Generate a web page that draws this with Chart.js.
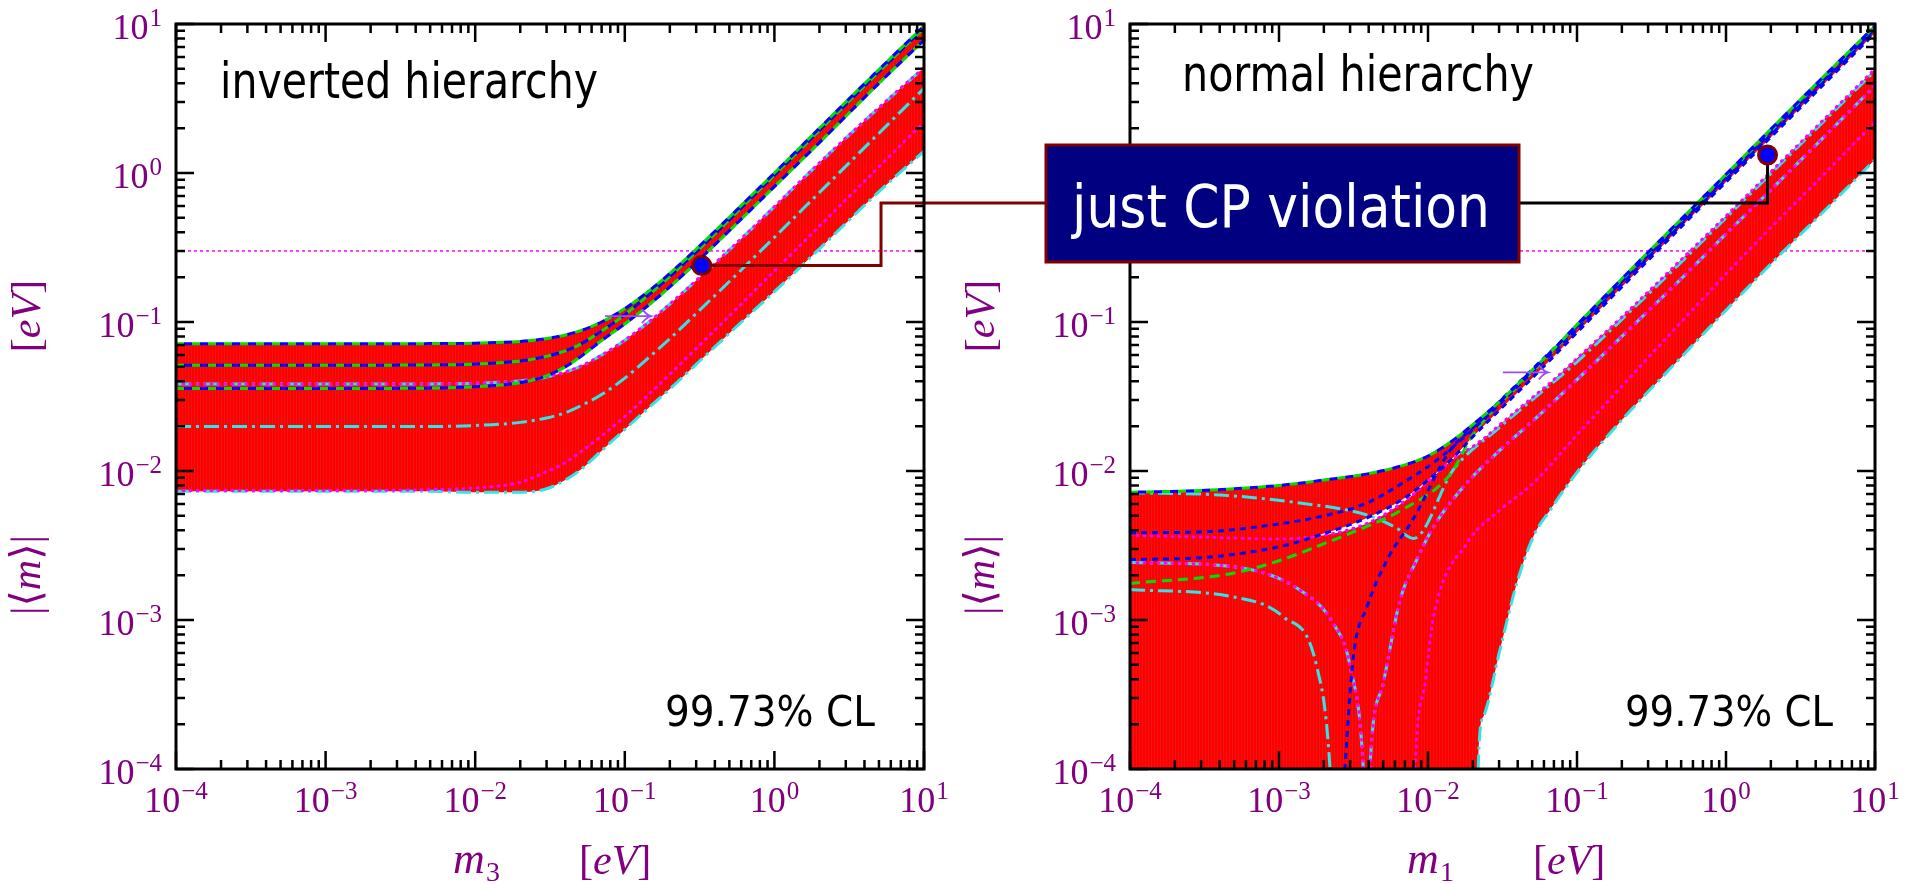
<!DOCTYPE html>
<html>
<head>
<meta charset="utf-8">
<title>Effective Majorana mass</title>
<script src="https://cdn.jsdelivr.net/npm/chart.js@4.4.1/dist/chart.umd.min.js"></script>
<style>
  html, body { margin: 0; padding: 0; background: #ffffff; }
  #wrap { position: relative; width: 1915px; height: 884px; overflow: hidden; }
  #wrap canvas { position: absolute; left: 0; top: 0; }
</style>
</head>
<body>
<div id="wrap">
  <canvas id="ihChart" width="1915" height="884"></canvas>
  <canvas id="nhChart" width="1915" height="884"></canvas>
</div>
<script>
// values, all in eV
var tickExp = [-4, -3, -2, -1, 0, 1];
var boundLine = [0.3];

// inverted hierarchy (x = m3)
var ihX      = [1e-4, 1e-3, 5e-3, 0.01, 0.02, 0.03, 0.04, 0.05, 0.07, 0.1, 0.15, 0.2, 0.3, 0.5, 0.7, 1, 2, 5, 10];
var ihTop    = [0.0714, 0.0714, 0.0716, 0.0721, 0.0741, 0.0775, 0.0818, 0.0872, 0.100, 0.123, 0.166, 0.212, 0.308, 0.505, 0.704, 1.0, 2.0, 4.95, 9.7];
var ihMid    = [0.0513, 0.0513, 0.0515, 0.0522, 0.0548, 0.0588, 0.064, 0.0705, 0.087, 0.112, 0.157, 0.202, 0.295, 0.485, 0.68, 0.965, 1.93, 4.78, 9.4];
var ihUpLow  = [0.0358, 0.0358, 0.0360, 0.0368, 0.0392, 0.0435, 0.050, 0.058, 0.075, 0.097, 0.134, 0.172, 0.25, 0.41, 0.57, 0.81, 1.6, 4.0, 7.8];
var ihLowTop = [0.0383, 0.0383, 0.0384, 0.0388, 0.0403, 0.0428, 0.0462, 0.0502, 0.060, 0.0755, 0.103, 0.132, 0.19, 0.305, 0.42, 0.595, 1.17, 2.75, 5.1];
var ihCentre = [0.0199, 0.0199, 0.0199, 0.0202, 0.0212, 0.0227, 0.0246, 0.0272, 0.0326, 0.042, 0.0597, 0.0773, 0.114, 0.187, 0.26, 0.37, 0.74, 1.85, 3.7];
var ihLowM   = [0.0074, 0.0074, 0.0075, 0.0077, 0.0084, 0.0099, 0.0114, 0.0133, 0.0172, 0.0232, 0.0338, 0.0446, 0.0664, 0.11, 0.154, 0.22, 0.44, 1.1, 2.2];
var ihBot    = [0.0073, 0.0073, 0.0073, 0.0072, 0.0072, 0.0076, 0.0087, 0.0101, 0.0137, 0.019, 0.0275, 0.0355, 0.052, 0.084, 0.115, 0.16, 0.31, 0.75, 1.4];
var ihDotX = [0.327], ihDotY = [0.239];

// normal hierarchy (x = m1)
var nhXU     = [1e-4, 3e-4, 1e-3, 2e-3, 4e-3, 7e-3, 0.01, 0.015, 0.02, 0.03, 0.05, 0.07, 0.1, 0.2, 0.5, 1, 2, 5, 10];
var nhTop    = [0.0072, 0.0074, 0.0080, 0.0087, 0.0096, 0.0110, 0.0126, 0.0163, 0.0205, 0.029, 0.0475, 0.066, 0.096, 0.195, 0.49, 0.98, 1.97, 4.9, 9.7];
var nhUpLow  = [0.00255, 0.00262, 0.0031, 0.0038, 0.0049, 0.0066, 0.0087, 0.0125, 0.017, 0.0255, 0.042, 0.059, 0.085, 0.172, 0.435, 0.87, 1.74, 4.35, 8.7];
var nhXL     = [1e-4, 3e-4, 1e-3, 2e-3, 4e-3, 7e-3, 0.01, 0.015, 0.0212, 0.0217, 0.0235, 0.0304, 0.0394, 0.0509, 0.066, 0.1, 0.2, 0.5, 1, 2, 5, 10];
var nhLowTop = [0.0037, 0.0036, 0.0035, 0.0037, 0.0045, 0.0063, 0.0085, 0.0122, 0.0152, 0.0155, 0.0164, 0.0205, 0.0255, 0.0315, 0.039, 0.057, 0.108, 0.262, 0.515, 1.02, 2.52, 5.0];
var nhBot    = [1e-6, 1e-6, 1e-6, 1e-6, 1e-6, 1e-6, 1e-6, 1e-6, 1e-6, 0.0001, 0.000224, 0.00063, 0.00176, 0.00363, 0.00547, 0.0098, 0.022, 0.058, 0.12, 0.245, 0.61, 1.23];
var nhB1X = [1e-4, 3e-4, 8.3e-4, 2e-3, 3.9e-3, 7e-3, 0.0108, 0.02, 0.05, 0.1, 0.2, 0.5, 1, 2, 5, 10];
var nhB1Y = [0.00385, 0.0039, 0.0043, 0.005, 0.0061, 0.0085, 0.0113, 0.019, 0.046, 0.09, 0.18, 0.45, 0.9, 1.8, 4.5, 9.0];
var nhB3X = [0.0026, 0.00277, 0.00316, 0.0039, 0.0055, 0.0079, 0.0141, 0.02, 0.05, 0.1, 0.3, 1, 3, 10];
var nhB3Y = [0.00003, 0.0001, 0.00057, 0.00123, 0.0027, 0.0047, 0.0138, 0.0195, 0.048, 0.094, 0.28, 0.93, 2.8, 9.3];
var nhG2X = [1e-4, 4.9e-4, 1e-3, 2.31e-3, 4e-3, 6.5e-3, 0.0141, 0.02, 0.05, 0.1, 0.3, 1, 3, 10];
var nhG2Y = [0.00176, 0.00206, 0.0025, 0.00344, 0.0043, 0.0054, 0.0095, 0.0175, 0.046, 0.093, 0.285, 0.95, 2.85, 9.5];
var nhC1X = [1e-4, 4e-4, 1.38e-3, 3.9e-3, 6e-3, 8e-3, 0.0148, 0.03, 0.05, 0.1, 0.2, 0.5, 1, 2, 5, 10];
var nhC1Y = [0.00715, 0.0069, 0.0061, 0.00507, 0.0042, 0.00353, 0.0102, 0.0195, 0.030, 0.054, 0.104, 0.252, 0.50, 0.99, 2.45, 4.85];
var nhC2X = [1e-4, 4.9e-4, 1.38e-3, 2.31e-3, 3.0e-3, 3.68e-3, 3.9e-3];
var nhC2Y = [0.00243, 0.00228, 0.00159, 0.00095, 0.00049, 0.0001, 0.00002];
var nhC3X = [1e-4, 4.9e-4, 1.07e-3, 1.79e-3, 2.2e-3, 2.35e-3];
var nhC3Y = [0.0016, 0.00143, 0.00105, 0.00049, 0.0001, 0.00002];
var nhR1X = [0.0039, 0.00407, 0.00501, 0.0065, 0.0084, 0.0109, 0.0182, 0.0304, 0.05, 0.1, 0.2, 0.5, 1, 2, 5, 10];
var nhR1Y = [0.00002, 0.0001, 0.000376, 0.00136, 0.00253, 0.00423, 0.0083, 0.0138, 0.0215, 0.041, 0.08, 0.195, 0.39, 0.77, 1.92, 3.85];
var nhR2X = [0.0079, 0.0082, 0.00955, 0.0109, 0.0182, 0.0304, 0.0509, 0.1, 0.2, 0.5, 1, 2, 5, 10];
var nhR2Y = [0.00002, 0.0001, 0.000376, 0.00105, 0.00327, 0.00547, 0.0083, 0.0175, 0.037, 0.1, 0.21, 0.43, 1.08, 2.2];
var nhDotX = [1.9], nhDotY = [1.32];

// annotation anchors (data units)
var ihArrow = {x0: 0.0738, x1: 0.1496, y: 0.1096};
var nhArrow = {x0: 0.0318, x1: 0.0638, y: 0.0459};
var ihElbowX = 5.16, connY = 0.63;
var BOX = {left: 1046, top: 145, right: 1519, bottom: 262};

// red hatching like the original vertical strokes
var pc = document.createElement('canvas');
pc.width = 3; pc.height = 1;
var pg = pc.getContext('2d');
pg.fillStyle = '#ff0000'; pg.fillRect(0, 0, 3, 1);
pg.fillStyle = '#f21212'; pg.fillRect(2, 0, 1, 1);
var RED = pg.createPattern(pc, 'repeat');

var sGreen = {c: '#00e000', w: 3, d: [10, 6]};
var sGreenA = {c: '#00e000', w: 3, d: [8, 8]};
var sBlueA = {c: '#0000ff', w: 3, d: [8, 8], o: 8};
var sBlue = {c: '#0000ff', w: 3, d: [6, 5]};
var sCyan = {c: '#2ee6e6', w: 3, d: [15, 5, 3, 5]};
var sMag = {c: '#ff00ff', w: 3, d: [1, 6], cap: 'round'};
var sNone = {c: 'rgba(0,0,0,0)', w: 1, d: []};

function pts(xs, ys) {
  return xs.map(function (x, i) { return {x: x, y: ys[i]}; });
}

function curve(xs, ys, st, order, fillTo) {
  var d = {
    data: pts(xs, ys),
    borderColor: st.c,
    borderWidth: st.w,
    borderDash: st.d,
    borderDashOffset: st.o || 0,
    borderCapStyle: st.cap || 'butt',
    pointRadius: 0,
    fill: false,
    order: order,
    clip: 0
  };
  if (fillTo !== undefined) {
    d.fill = fillTo;
    d.backgroundColor = RED;
  }
  return d;
}

function dot(xs, ys) {
  return {
    data: pts(xs, ys),
    isDot: true,
    showLine: false,
    pointRadius: 9,
    pointBackgroundColor: '#0000ff',
    pointBorderColor: '#800000',
    pointBorderWidth: 3,
    order: 0,
    clip: false
  };
}

function scaledText(ctx, str, x, y, size, width, color) {
  ctx.save();
  ctx.font = size + 'px "DejaVu Sans"';
  var w = ctx.measureText(str).width;
  ctx.translate(x, y);
  ctx.scale(width / w, 1);
  ctx.fillStyle = color;
  ctx.textAlign = 'left';
  ctx.textBaseline = 'alphabetic';
  ctx.fillText(str, 0, 0);
  ctx.restore();
}

function powLabel(ctx, e, x, y, align) {
  var ex = e < 0 ? '\u2212' + (-e) : String(e);
  ctx.font = '36px "Liberation Serif"';
  var wb = ctx.measureText('10').width;
  ctx.font = '25px "Liberation Serif"';
  var we = ctx.measureText(ex).width;
  var tot = wb + we + 1;
  var x0 = align === 'center' ? x - tot / 2 : x - tot;
  ctx.textAlign = 'left';
  ctx.font = '36px "Liberation Serif"';
  ctx.fillText('10', x0, y);
  ctx.font = '25px "Liberation Serif"';
  ctx.fillText(ex, x0 + wb + 1, y - 13);
}

// runs of [text, italic]
function runs(ctx, list, x, y, size) {
  var cx = x;
  list.forEach(function (r) {
    ctx.font = (r[1] ? 'italic ' : '') + size + 'px "Liberation Serif", "DejaVu Serif"';
    ctx.fillText(r[0], cx, y);
    cx += ctx.measureText(r[0]).width;
  });
  return cx;
}
function runsWidth(ctx, list, size) {
  var w = 0;
  list.forEach(function (r) {
    ctx.font = (r[1] ? 'italic ' : '') + size + 'px "Liberation Serif", "DejaVu Serif"';
    w += ctx.measureText(r[0]).width;
  });
  return w;
}

function makePlugin(cfg) {
  return {
    id: 'deco_' + cfg.name,
    beforeDraw: function (chart) {
      var ctx = chart.ctx, a = chart.chartArea;
      var py = chart.scales.y.getPixelForValue(boundLine[0]);
      ctx.save();
      ctx.strokeStyle = '#ff00ff';
      ctx.lineWidth = 1.5;
      ctx.setLineDash([3, 3]);
      ctx.beginPath();
      ctx.moveTo(a.left, py);
      ctx.lineTo(a.right, py);
      ctx.stroke();
      ctx.restore();
    },
    beforeDatasetDraw: function (chart, args) {
      var ds = chart.data.datasets[args.index];
      if (!ds.isDot) return;
      var ctx = chart.ctx, xs = chart.scales.x, ys = chart.scales.y;
      var p = args.meta.data[0];
      var cy = ys.getPixelForValue(connY);
      ctx.save();
      ctx.lineWidth = 3;
      ctx.strokeStyle = cfg.connColor;
      ctx.beginPath();
      ctx.moveTo(p.x, p.y);
      if (cfg.name === 'ih') {
        var ex = xs.getPixelForValue(ihElbowX);
        ctx.lineTo(ex, p.y);
        ctx.lineTo(ex, cy);
        ctx.lineTo(BOX.left, cy);
      } else {
        ctx.lineTo(p.x, cy);
        ctx.lineTo(BOX.right, cy);
      }
      ctx.stroke();
      ctx.restore();
    },
    afterDraw: function (chart) {
      var ctx = chart.ctx, a = chart.chartArea, xs = chart.scales.x, ys = chart.scales.y;
      ctx.save();
      // arrow
      var ax0 = xs.getPixelForValue(cfg.arrow.x0), ax1 = xs.getPixelForValue(cfg.arrow.x1);
      var ay = ys.getPixelForValue(cfg.arrow.y);
      ctx.strokeStyle = '#9a4cff';
      ctx.lineWidth = 1.8;
      ctx.beginPath();
      ctx.moveTo(ax0, ay); ctx.lineTo(ax1, ay);
      ctx.moveTo(ax1 - 9, ay - 7); ctx.quadraticCurveTo(ax1 - 4, ay - 1, ax1, ay);
      ctx.quadraticCurveTo(ax1 - 4, ay + 1, ax1 - 9, ay + 7);
      ctx.stroke();

      // frame and inward ticks
      ctx.strokeStyle = '#000';
      ctx.lineWidth = 2.5;
      ctx.beginPath();
      tickExp.forEach(function (e) {
        for (var m = 1; m <= 9; m++) {
          var v = m * Math.pow(10, e);
          if (v > 10.0001) break;
          var L = m === 1 ? 18 : 9;
          var px = xs.getPixelForValue(v), py = ys.getPixelForValue(v);
          ctx.moveTo(px, a.bottom); ctx.lineTo(px, a.bottom - L);
          ctx.moveTo(px, a.top); ctx.lineTo(px, a.top + L);
          ctx.moveTo(a.left, py); ctx.lineTo(a.left + L, py);
          ctx.moveTo(a.right, py); ctx.lineTo(a.right - L, py);
        }
      });
      ctx.stroke();
      ctx.lineWidth = 3;
      ctx.strokeRect(a.left, a.top, a.right - a.left, a.bottom - a.top);

      // tick labels
      ctx.fillStyle = '#800080';
      ctx.textBaseline = 'alphabetic';
      tickExp.forEach(function (e) {
        var v = Math.pow(10, e);
        powLabel(ctx, e, xs.getPixelForValue(v), a.bottom + 43, 'center');
        powLabel(ctx, e, a.left - 14, ys.getPixelForValue(v) + 15, 'right');
      });

      // axis titles
      runs(ctx, [['m', true]], a.left + 277, 873, 44);
      ctx.font = '28px "Liberation Serif"';
      ctx.fillText(cfg.sub, a.left + 277 + 33, 881);
      runs(ctx, [['[', false], ['eV', true], [']', false]], a.left + 403, 874, 42);

      var yl1 = [['|\u27E8', false], ['m', true], ['\u27E9|', false]];
      var yl2 = [['[', false], ['eV', true], [']', false]];
      ctx.save();
      ctx.translate(a.left - 136, 0);
      ctx.rotate(-Math.PI / 2);
      var w1 = runsWidth(ctx, yl1, 42), w2 = runsWidth(ctx, yl2, 42);
      runs(ctx, yl1, -575 - w1 / 2, 0, 42);
      runs(ctx, yl2, -316 - w2 / 2, 0, 42);
      ctx.restore();

      // labels inside the frame
      cfg.texts.forEach(function (t) {
        scaledText(ctx, t.s, t.x, t.y, t.size, t.w, '#000');
      });

      if (cfg.name === 'nh') {
        ctx.fillStyle = '#000080';
        ctx.fillRect(BOX.left, BOX.top, BOX.right - BOX.left, BOX.bottom - BOX.top);
        ctx.strokeStyle = '#800000';
        ctx.lineWidth = 3;
        ctx.strokeRect(BOX.left, BOX.top, BOX.right - BOX.left, BOX.bottom - BOX.top);
        scaledText(ctx, 'just CP violation', 1072, 227, 59, 418, '#ffffff');
      }
      ctx.restore();
    }
  };
}

function makeChart(id, datasets, pad, cfg) {
  return new Chart(document.getElementById(id), {
    type: 'line',
    data: {datasets: datasets},
    options: {
      responsive: false,
      animation: false,
      devicePixelRatio: 1,
      layout: {padding: pad},
      scales: {
        x: {type: 'logarithmic', min: 1e-4, max: 10, display: false},
        y: {type: 'logarithmic', min: 1e-4, max: 10, display: false}
      },
      elements: {
        line: {tension: 0, cubicInterpolationMode: 'monotone', capBezierPoints: false},
        point: {radius: 0, hitRadius: 0}
      },
      plugins: {
        legend: {display: false},
        tooltip: {enabled: false},
        filler: {drawTime: 'beforeDatasetsDraw'}
      }
    },
    plugins: [makePlugin(cfg)]
  });
}

var ihSets = [
  curve(ihX, ihTop, sNone, 100, 1),
  curve(ihX, ihUpLow, sNone, 100),
  curve(ihX, ihLowTop, sNone, 100, 3),
  curve(ihX, ihBot, sNone, 100),
  curve(ihX, ihBot, sCyan, 20),
  curve(ihX, ihLowM, sMag, 19),
  curve(ihX, ihCentre, sCyan, 18),
  curve(ihX, ihLowTop, sCyan, 17),
  curve(ihX, ihLowTop, sMag, 16),
  curve(ihX, ihUpLow, sGreenA, 15),
  curve(ihX, ihUpLow, sBlueA, 14),
  curve(ihX, ihMid, sGreenA, 13),
  curve(ihX, ihMid, sBlueA, 12),
  curve(ihX, ihTop, sGreenA, 11),
  curve(ihX, ihTop, sBlueA, 10),
  dot(ihDotX, ihDotY)
];

var nhSets = [
  curve(nhXU, nhTop, sNone, 100, 1),
  curve(nhXU, nhUpLow, sNone, 100),
  curve(nhXL, nhLowTop, sNone, 100, 3),
  curve(nhXL, nhBot, sNone, 100),
  curve(nhXL, nhBot, sCyan, 30),
  curve(nhR2X, nhR2Y, sMag, 29),
  curve(nhR1X, nhR1Y, sCyan, 28),
  curve(nhR1X, nhR1Y, sMag, 27),
  curve(nhC3X, nhC3Y, sCyan, 26),
  curve(nhC2X, nhC2Y, sCyan, 25),
  curve(nhC2X, nhC2Y, sMag, 24),
  curve(nhC1X, nhC1Y, sCyan, 23),
  curve(nhXL, nhLowTop, sMag, 22),
  curve(nhG2X, nhG2Y, sGreen, 21),
  curve(nhB3X, nhB3Y, sBlue, 20),
  curve(nhB1X, nhB1Y, sBlue, 19),
  curve(nhXU, nhUpLow, sBlue, 18),
  curve(nhXU, nhTop, sGreenA, 11),
  curve(nhXU, nhTop, sBlueA, 10),
  dot(nhDotX, nhDotY)
];

makeChart('ihChart', ihSets, {left: 176, right: 991, top: 24, bottom: 115}, {
  name: 'ih', sub: '3', connColor: '#800000', arrow: ihArrow,
  texts: [
    {s: 'inverted hierarchy', x: 220, y: 98, size: 49, w: 378},
    {s: '99.73% CL', x: 665, y: 726, size: 43, w: 210}
  ]
});
makeChart('nhChart', nhSets, {left: 1130, right: 40, top: 24, bottom: 115}, {
  name: 'nh', sub: '1', connColor: '#000000', arrow: nhArrow,
  texts: [
    {s: 'normal hierarchy', x: 1182, y: 91, size: 49, w: 352},
    {s: '99.73% CL', x: 1625, y: 726, size: 43, w: 208}
  ]
});
</script>
</body>
</html>
